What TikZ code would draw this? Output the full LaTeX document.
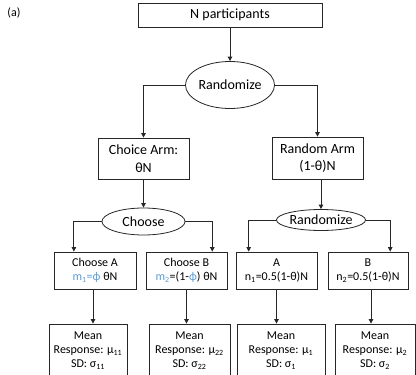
\documentclass[tikz,border=0pt]{standalone}
\usepackage{fontspec}
\setmainfont{Carlito}
\usetikzlibrary{shapes.geometric,arrows.meta,calc}
\definecolor{subblue}{HTML}{5B9BD5}
\definecolor{linegray}{HTML}{262626}
\tikzset{
  box/.style={draw=linegray, line width=0.8pt, rectangle, inner sep=0pt, align=center},
  oval/.style={draw=linegray, line width=0.8pt, ellipse, inner sep=0pt, align=center},
  big/.style={font=\fontsize{14}{17.5}\selectfont},
  small/.style={font=\fontsize{12}{14}\selectfont},
  conn/.style={draw=linegray, line width=0.8pt},
  arr/.style={conn, -{Triangle[length=4.5pt,width=4.5pt]}}
}
\begin{document}
\begin{tikzpicture}[x=1pt, y=-1pt]
\clip (0,0) rectangle (416,375);
\useasboundingbox (0,0) rectangle (416,375);

\node[font=\fontsize{12}{14}\selectfont] (lab) at (14,13) {(a)};

% top level
\node[box, big, minimum width=184pt, minimum height=24pt] (top) at (230,15) {N participants};
\node[oval, big, minimum width=89pt, minimum height=47pt] (rand) at (230,85) {Randomize};

% the two arms
\node[box, big, minimum width=91pt, minimum height=41pt] (choice) at (143.5,158.5) {Choice Arm:\\θN};
\node[box, big, minimum width=91pt, minimum height=42pt] (random) at (317.5,158) {Random Arm\\(1-θ)N};

\node[oval, big, minimum width=83pt, minimum height=27pt] (choose) at (143.5,221.5) {Choose};
\node[oval, big, minimum width=84pt, minimum height=21pt] (rand2) at (321,220) {Randomize};

% groups
\node[box, small, minimum width=82pt, minimum height=37pt] (ca) at (95,270.5) {Choose A\\\textcolor{subblue}{m\textsubscript{1}=ϕ} θN};
\node[box, small, minimum width=81pt, minimum height=37pt] (cb) at (186.5,270.5) {Choose B\\\textcolor{subblue}{m\textsubscript{2}}=(1-\textcolor{subblue}{ϕ}) θN};
\node[box, small, minimum width=81pt, minimum height=37pt] (ga) at (276.5,270.5) {A\\n\textsubscript{1}=0.5(1-θ)N};
\node[box, small, minimum width=80pt, minimum height=37pt] (gb) at (368,270.5) {B\\n\textsubscript{2}=0.5(1-θ)N};

% outcomes
\node[box, small, minimum width=78pt, minimum height=54pt] (o1) at (88,351) {Mean\\Response: μ\textsubscript{11}\\SD: σ\textsubscript{11}};
\node[box, small, minimum width=81pt, minimum height=54pt] (o2) at (189.5,351) {Mean\\Response: μ\textsubscript{22}\\SD: σ\textsubscript{22}};
\node[box, small, minimum width=88pt, minimum height=54pt] (o3) at (281,351) {Mean\\Response: μ\textsubscript{1}\\SD: σ\textsubscript{1}};
\node[box, small, minimum width=80pt, minimum height=54pt] (o4) at (375,351) {Mean\\Response: μ\textsubscript{2}\\SD: σ\textsubscript{2}};

% connectors
\draw[arr] (top.south) -- (rand.north);
\draw[arr] (rand.west) -| (choice.north);
\draw[arr] (rand.east) -| (random.north);
\draw[arr] (choice.south) -- (choose.north);
\draw[arr] (random.south -| rand2.north) -- (rand2.north);

\draw[arr] (choose.west) -| ($(ca.north west)!0.245!(ca.north east)$);
\draw[arr] (choose.east) -| ($(cb.north west)!0.815!(cb.north east)$);
\draw[arr] (rand2.west) -| ($(ga.north west)!0.16!(ga.north east)$);
\draw[arr] (rand2.east) -| ($(gb.north west)!0.775!(gb.north east)$);

\draw[arr] ([xshift=-2pt]ca.south) -- ([xshift=-2pt]ca.south |- o1.north);
\draw[arr] (cb.south) -- (cb.south |- o2.north);
\draw[arr] (ga.south) -- (ga.south |- o3.north);
\draw[arr] ([xshift=3pt]gb.south) -- ([xshift=3pt]gb.south |- o4.north);
\end{tikzpicture}
\end{document}
